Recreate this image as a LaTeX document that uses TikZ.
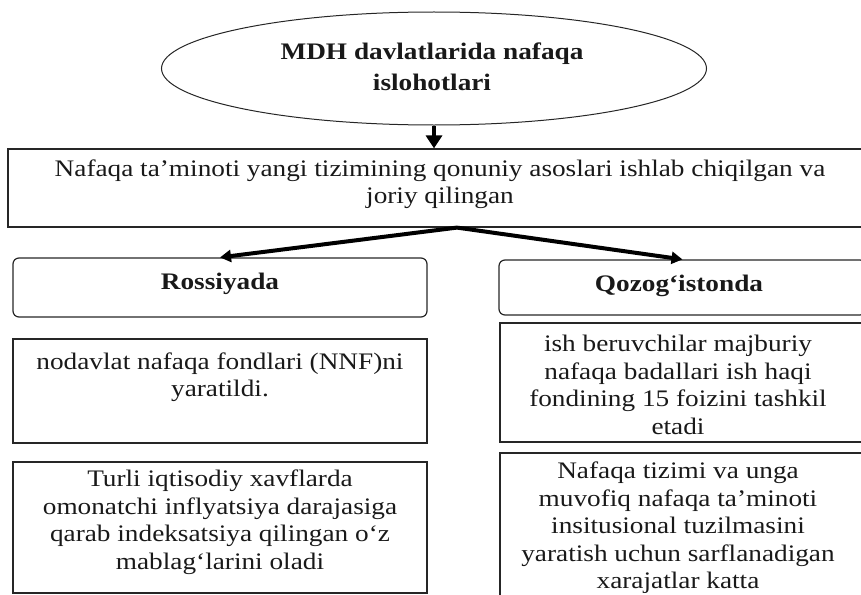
\documentclass[tikz,border=0pt]{standalone}
\usepackage{fontspec}
\setmainfont{Liberation Serif}[FakeStretch=1.15]
\usetikzlibrary{arrows.meta,shapes.geometric}
\begin{document}
\begin{tikzpicture}[x=1pt,y=-1pt,
  boxline/.style={draw=black!85, line width=1.2pt},
  plainbox/.style={boxline, rectangle, inner sep=0pt},
  roundbox/.style={boxline, rectangle, rounded corners=6pt, inner sep=0pt},
  txt/.style={align=center, font=\fontsize{23.7}{27.5}\selectfont, text=black!90, inner sep=0pt},
  boldtxt/.style={txt, font=\bfseries\fontsize{23.7}{31}\selectfont},
  downarrow/.style={line width=3.5pt, -{Triangle[length=13pt,width=16pt]}},
  sidearrow/.style={line width=4pt, -{Triangle[length=11pt,width=12pt]}},
]
\useasboundingbox (0,0) rectangle (861,594);
\clip (0,0) rectangle (861,594);
% title ellipse
\node[ellipse, draw=black!85, line width=1pt, minimum width=545pt, minimum height=113pt, inner sep=0pt] (ell) at (434,68.5) {};
\node[boldtxt] (elltxt) at (432,67) {MDH davlatlarida nafaqa\\islohotlari};
% law box
\node[plainbox, minimum width=866pt, minimum height=78pt] (law) at (441,188) {};
\node[txt] (lawtxt) at (440,184) {Nafaqa ta’minoti yangi tizimining qonuniy asoslari ishlab chiqilgan va\\joriy qilingan};
% country headers
\node[roundbox, minimum width=414pt, minimum height=59pt] (ros) at (220,287.5) {};
\node[boldtxt] (rostxt) at (220,284) {Rossiyada};
\node[roundbox, minimum width=367pt, minimum height=55pt] (qoz) at (682.5,287.5) {};
\node[boldtxt] (qoztxt) at (679,286) {Qozog‘istonda};
% left column
\node[plainbox, minimum width=414pt, minimum height=104pt] (nnf) at (220,391) {};
\node[txt] (nnftxt) at (220,377) {nodavlat nafaqa fondlari (NNF)ni\\yaratildi.};
\node[plainbox, minimum width=414pt, minimum height=131pt] (idx) at (220,527.5) {};
\node[txt] (idxtxt) at (220,522) {Turli iqtisodiy xavflarda\\omonatchi inflyatsiya darajasiga\\qarab indeksatsiya qilingan o‘z\\mablag‘larini oladi};
% right column
\node[plainbox, minimum width=366pt, minimum height=119pt] (ish) at (683,382.5) {};
\node[txt] (ishtxt) at (678,385) {ish beruvchilar majburiy\\nafaqa badallari ish haqi\\fondining 15 foizini tashkil\\etadi};
\node[plainbox, minimum width=366pt, minimum height=167pt] (sys) at (683,536.5) {};
\node[txt] (systxt) at (678,528) {Nafaqa tizimi va unga\\muvofiq nafaqa ta’minoti\\insitusional tuzilmasini\\yaratish uchun sarflanadigan\\xarajatlar katta};
% connectors
\draw[downarrow] (ell.south) -- (ell.south |- law.north);
\coordinate (split) at ([xshift=16pt]law.south);
\draw[sidearrow] (split) -- (ros.north);
\draw[sidearrow] (split) -- (qoz.north);
\end{tikzpicture}
\end{document}
